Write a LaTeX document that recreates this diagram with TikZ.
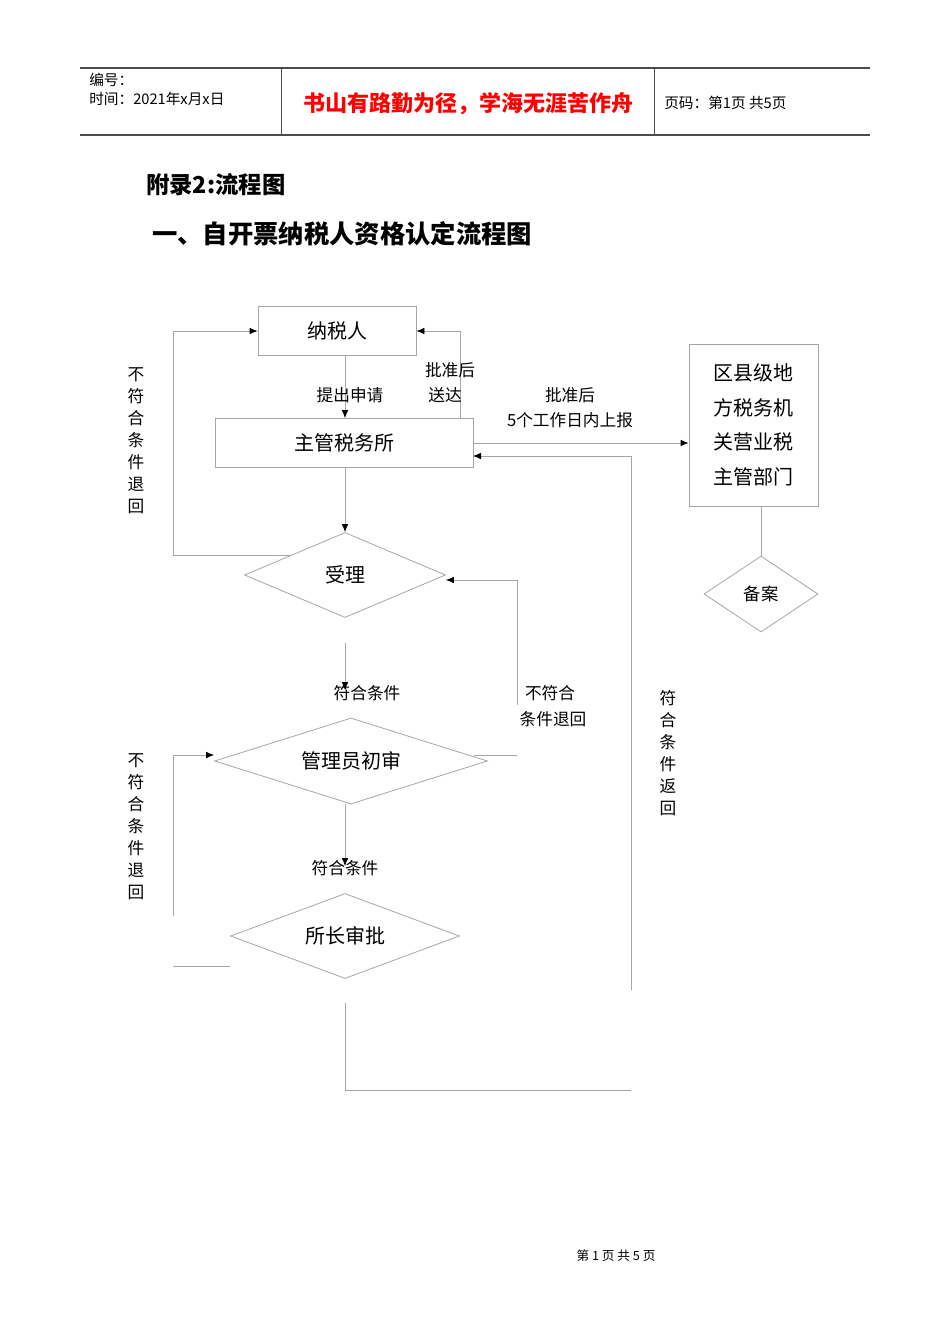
\documentclass[tikz,border=0pt]{standalone}
\usepackage{fontspec}
\setmainfont{Noto Sans CJK SC}
\usetikzlibrary{shapes.geometric,arrows.meta}
\begin{document}
\begin{tikzpicture}[x=0.75pt,y=-0.75pt,
  ln/.style={draw=black!35,line width=0.6pt},
  arr/.style={ln,-{Latex[length=6pt,width=5pt,black]}},
  boxn/.style={draw=black!35,line width=0.6pt,inner sep=0pt,font=\fontsize{15}{18}\selectfont},
  dia/.style={diamond,draw=black!35,line width=0.6pt,inner sep=0pt,font=\fontsize{15}{18}\selectfont},
  lbl/.style={font=\fontsize{12.5}{15}\selectfont,inner sep=0pt},
  vlbl/.style={font=\fontsize{12.5}{16.5}\selectfont,inner sep=0pt,align=center}]
\useasboundingbox (0,0) rectangle (950,1344);
% header
\draw[black!70,line width=0.8pt] (80,68) -- (870,68) (80,135) -- (870,135);
\draw[black!70,line width=0.6pt] (281,68) -- (281,135) (654,68) -- (654,135);
\node[anchor=west,lbl,font=\fontsize{11}{13}\selectfont] (h1) at (89,80) {编号：};
\node[anchor=west,lbl,font=\fontsize{11}{13}\selectfont] (h2) at (89,99) {时间：2021年x月x日};
\node[lbl,text=red,font=\bfseries\fontsize{16.5}{20}\selectfont] (h3) at (468,104) {书山有路勤为径，学海无涯苦作舟};
\node[anchor=west,lbl,font=\fontsize{11}{13}\selectfont] (h4) at (664,103) {页码：第1页 共5页};
\node[anchor=west,inner sep=0pt,font=\bfseries\fontsize{17.5}{20}\selectfont] (t1) at (146,185) {附录2:流程图};
\node[anchor=west,inner sep=0pt,font=\bfseries\fontsize{19}{22}\selectfont] (t2) at (152,234) {一、自开票纳税人资格认定流程图};
% nodes
\node[boxn,minimum width=118.5pt,minimum height=36.75pt] (ns) at (337,331) {纳税人};
\node[boxn,minimum width=193.5pt,minimum height=36.75pt] (zg) at (344,443) {主管税务所};
\node[dia,aspect=2.4,minimum width=150.75pt,minimum height=63.75pt] (sl) at (345,575) {受理};
\node[dia,aspect=3.2,minimum width=204.75pt,minimum height=64.5pt] (gl) at (351,761) {管理员初审};
\node[dia,aspect=2.7,minimum width=171.75pt,minimum height=63.75pt] (sz) at (345,936) {所长审批};
\node[boxn,minimum width=96.75pt,minimum height=121.5pt,align=left,font=\fontsize{15}{26}\selectfont] (qx) at (753.5,425) {区县级地\\方税务机\\关营业税\\主管部门};
\node[dia,aspect=1.5,minimum width=85.5pt,minimum height=57pt,font=\fontsize{13}{16}\selectfont] (ba) at (761,594) {备案};
% coordinates
\coordinate (c1) at (345,643);
\coordinate (c2) at (345,690);
\coordinate (c3) at (345,866);
\coordinate (c4) at (517,705);
\coordinate (c5) at (631,990);
\coordinate (c6) at (345,1003);
\coordinate (c7) at (173,916);
\coordinate (c8) at (173,966);
% connectors
\draw[arr] (ns.south -| 345,0) -- (zg.north -| 345,0);
\draw[arr] (zg.north east -| 460,0) |- (ns.east);
\draw[arr] (290,555) -| (173,331) -- (ns.west);
\draw[arr] (zg.east) -- (qx.west |- zg.east);
\draw[arr] (zg.south -| 345,0) -- (sl.north);
\draw[arr] (c5) |- (473,456);
\draw[arr] (c1) -- (c2);
\draw[arr] (c4) |- (sl.east |- 0,580);
\draw[ln] (474,755) -- (517,755);
\draw[arr] (gl.south -| 345,0) -- (c3);
\draw[arr] (c7) |- (gl.west |- 0,755);
\draw[ln] (c8) -- (230,966);
\draw[ln] (c6) |- (631,1090);
\draw[ln] (qx.south -| ba.north) -- (ba.north);
% labels
\node[lbl] (l1) at (350,395) {提出申请};
\node[lbl] (l2) at (450,370) {批准后};
\node[lbl] (l3) at (445,395) {送达};
\node[lbl] (l4) at (570,395) {批准后};
\node[lbl] (l5) at (570,420) {5个工作日内上报};
\node[lbl] (l6) at (367,693) {符合条件};
\node[lbl] (l7) at (550,693) {不符合};
\node[lbl] (l8) at (553,719) {条件退回};
\node[lbl] (l9) at (345,868) {符合条件};
\node[vlbl] (v1) at (136,441) {不\\符\\合\\条\\件\\退\\回};
\node[vlbl] (v2) at (136,827) {不\\符\\合\\条\\件\\退\\回};
\node[vlbl] (v3) at (668,753) {符\\合\\条\\件\\返\\回};
\node[lbl,font=\fontsize{9.5}{11}\selectfont] (ft) at (616,1256) {第 1 页 共 5 页};
\end{tikzpicture}
\end{document}
